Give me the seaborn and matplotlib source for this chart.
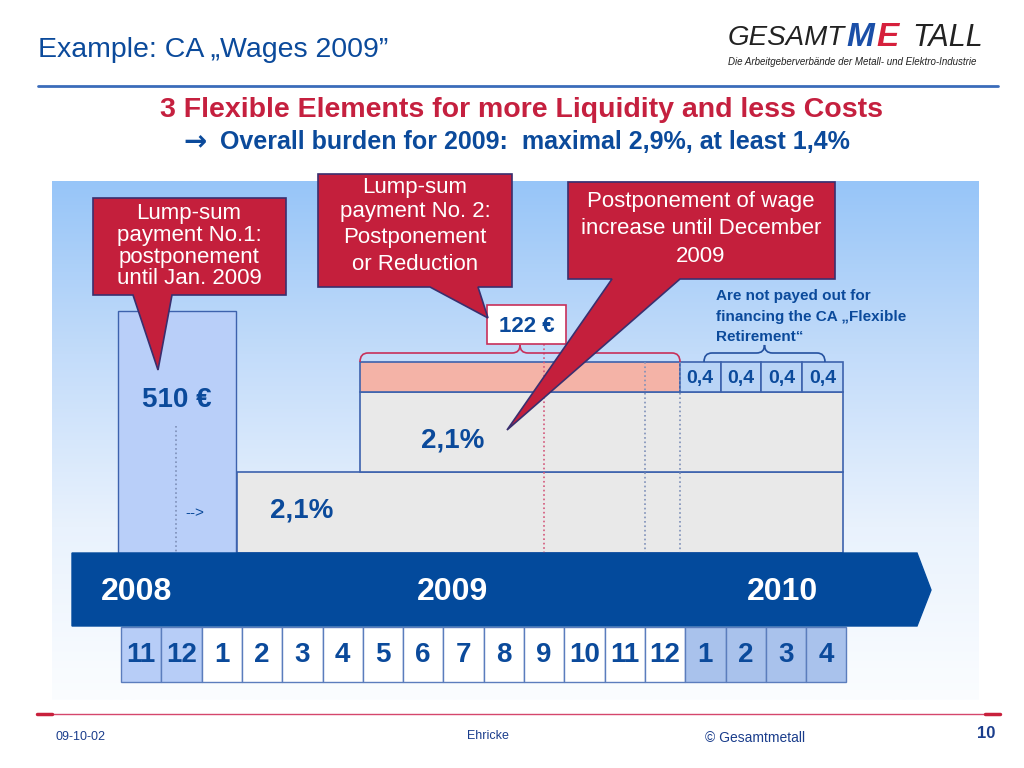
import numpy as np
import matplotlib
matplotlib.use("Agg")
import matplotlib.pyplot as plt
from matplotlib.patches import Polygon, PathPatch
from matplotlib.path import Path
from matplotlib.colors import LinearSegmentedColormap
import seaborn as sns

# ---- data
months = ["11", "12", "1", "2", "3", "4", "5", "6", "7", "8", "9",
          "10", "11", "12", "1", "2", "3", "4"]
month_year = ["2008"] * 2 + ["2009"] * 12 + ["2010"] * 4
years = ["2008", "2009", "2010"]
lump_sum_1 = 510          # EUR
lump_sum_2 = 122          # EUR
wage_step_1 = 2.1         # %
wage_step_2 = 2.1         # %
retirement_parts = [0.4, 0.4, 0.4, 0.4]

title = "Example: CA „Wages 2009”"
headline = "3 Flexible Elements for more Liquidity and less Costs"
subline = "Overall burden for 2009:  maximal 2,9%, at least 1,4%"
callout_1 = ["Lump-sum", "payment No.1:", "postponement", "until Jan. 2009"]
callout_2 = ["Lump-sum", "payment No. 2:", "Postponement", "or Reduction"]
callout_3 = ["Postponement of wage", "increase until December", "2009"]
retirement_note = ["Are not payed out for", "financing the CA „Flexible", "Retirement“"]
footer = ["09-10-02", "Ehricke", "© Gesamtmetall", "10"]


def pct(v):
    return f"{v:.1f}".replace(".", ",")


sns.set_theme(style="white")
plt.rcParams["font.family"] = ["Liberation Sans", "DejaVu Sans"]

BLUE = "#0b4a9b"
DARK_BLUE = "#034a9c"
RED = "#c41f3c"
EDGE = "#3d62ad"

fig = plt.figure(figsize=(10.24, 7.68), dpi=100)
ax = fig.add_axes([0, 0, 1, 1])
ax.set_xlim(0, 1024)
ax.set_ylim(768, 0)
ax.axis("off")

# background panel with vertical gradient
grad = np.linspace(0, 1, 256)[:, None]
bg = LinearSegmentedColormap.from_list("bg", ["#97c5f8", "#c3dcfa", "#e9f2fd", "#fbfdff"])
ax.imshow(grad, extent=(52, 979, 700, 181), cmap=bg, aspect="auto", zorder=0)
ax.set_xlim(0, 1024)
ax.set_ylim(768, 0)

# ---- month grid
x0, mw = 121, 40.3
xs = x0 + mw * np.arange(len(months))
cell_col = {"2008": "#b7cdf7", "2009": "white", "2010": "#a9c2ec"}
ax.bar(xs, 55, bottom=627, width=mw, align="edge",
       color=[cell_col[y] for y in month_year], edgecolor="#5b7dbd", linewidth=1, zorder=2)
for x, m in zip(xs, months):
    ax.text(x + mw / 2, 655, m, ha="center", va="center", fontsize=20,
            fontweight="bold", color=BLUE, zorder=3)

# ---- payment blocks
# lump sum 1 column
ax.bar(118, 553 - 311, bottom=311, width=118, align="edge", color="#b9cff9",
       edgecolor=EDGE, linewidth=1, zorder=2)
ax.plot([176, 176], [426, 553], ls=":", color="#7d8fb8", lw=1.2, zorder=3)
ax.text(177, 400, f"{lump_sum_1} €", ha="center", va="center", fontsize=20,
        fontweight="bold", color=BLUE, zorder=3)
ax.text(195, 513, "-->", ha="center", va="center", fontsize=11, color=BLUE, zorder=3)

# wage steps
ax.bar(237, 553 - 472, bottom=472, width=843 - 237, align="edge", color="#e9e9e9",
       edgecolor=EDGE, linewidth=1.2, zorder=2)
ax.bar(360, 472 - 392, bottom=392, width=843 - 360, align="edge", color="#e9e9e9",
       edgecolor=EDGE, linewidth=1.2, zorder=2)
ax.text(302, 510, pct(wage_step_1) + "%", ha="center", va="center", fontsize=20,
        fontweight="bold", color=BLUE, zorder=3)
ax.text(453, 440, pct(wage_step_2) + "%", ha="center", va="center", fontsize=20,
        fontweight="bold", color=BLUE, zorder=3)

# lump sum 2 strip and retirement cells
ax.bar(360, 30, bottom=362, width=680 - 360, align="edge", color="#f4b3a7",
       edgecolor=EDGE, linewidth=1.2, zorder=2)
rx = 680 + 40.7 * np.arange(len(retirement_parts))
ax.bar(rx, 30, bottom=362, width=40.7, align="edge", color="#b9d4f6",
       edgecolor=EDGE, linewidth=1.2, zorder=2)
for x, v in zip(rx, retirement_parts):
    ax.text(x + 20.3, 378, pct(v), ha="center", va="center", fontsize=14,
            fontweight="bold", color=BLUE, zorder=3)

# dotted guide lines
ax.plot([543.5, 543.5], [344, 553], ls=":", color="#d4577a", lw=1.2, zorder=3)
for gx in (645, 680):
    ax.plot([gx, gx], [362, 553], ls=":", color="#7d8fb8", lw=1.2, zorder=3)


def brace(x_a, x_b, y, color, d=9, c=8, r=8):
    xc = (x_a + x_b) / 2
    verts = [(x_a, y + d), (x_a, y), (x_a + r, y), (xc - r, y), (xc, y), (xc, y - c),
             (xc, y), (xc + r, y), (x_b - r, y), (x_b, y), (x_b, y + d)]
    codes = [Path.MOVETO, Path.CURVE3, Path.CURVE3, Path.LINETO, Path.CURVE3, Path.CURVE3,
             Path.CURVE3, Path.CURVE3, Path.LINETO, Path.CURVE3, Path.CURVE3]
    ax.add_patch(PathPatch(Path(verts, codes), fill=False, edgecolor=color, lw=1.2, zorder=3))


brace(360, 680, 353, "#c8305a")
brace(704, 825, 353, "#2451a0")

# 122 EUR label
ax.bar(487, 39, bottom=305, width=79, align="edge", color="white",
       edgecolor="#c8305a", linewidth=1.2, zorder=4)
ax.text(527, 326, f"{lump_sum_2} €", ha="center", va="center", fontsize=16,
        fontweight="bold", color=BLUE, zorder=5)

for i, line in enumerate(retirement_note):
    ax.text(716, 296 + i * 20.5, line, ha="left", va="center", fontsize=11,
            fontweight="bold", color=BLUE, zorder=3)

# ---- time arrow
ax.add_patch(Polygon([(72, 553), (917, 553), (931, 590), (917, 626), (72, 626)],
                     closed=True, color=DARK_BLUE, zorder=4))
for yl, cx in zip(years, (137, 452, 782)):
    ax.text(cx, 592, yl, ha="center", va="center", fontsize=23, fontweight="bold",
            color="white", zorder=5)

# ---- callouts
def callout(rect, tail, lines, cx, ys):
    (l, t, r, b) = rect
    (ta, tip, tb) = tail
    pts = [(l, t), (r, t), (r, b), (tb, b), tip, (ta, b), (l, b)]
    ax.add_patch(Polygon(pts, closed=True, facecolor=RED, edgecolor="#3a2f6e",
                         lw=1.2, zorder=6))
    for line, y in zip(lines, ys):
        ax.text(cx, y, line, ha="center", va="center", fontsize=16, color="white", zorder=7)


callout((93, 198, 286, 295), (133, (158, 370), 172), callout_1, 189, [213, 235, 257, 278])
callout((318, 174, 512, 287), (430, (488, 318), 478), callout_2, 415, [188, 211, 238, 265])
callout((568, 182, 835, 279), (612, (507, 430), 680), callout_3, 701, [202, 229, 256])

# ---- header
ax.text(38, 50, title, ha="left", va="center", fontsize=20.5, color=BLUE)
ax.plot([38, 998], [86, 86], color="#3b6cba", lw=2)
ax.text(522, 110, headline, ha="center", va="center", fontsize=20.5,
        fontweight="bold", color="#c5203f")
ax.text(195, 142, "→", ha="center", va="center", fontsize=20, fontweight="bold",
        color=BLUE, family=["DejaVu Sans"])
ax.text(535, 142, subline, ha="center", va="center", fontsize=18,
        fontweight="bold", color=BLUE)

# logo
ax.text(728, 38, "GESAMT", ha="left", va="center", fontsize=20, style="italic", color="#222222")
ax.text(846, 38, "M", ha="left", va="center", fontsize=24, style="italic",
        fontweight="bold", color="#1b4fa8")
ax.text(876, 38, "E", ha="left", va="center", fontsize=24, style="italic",
        fontweight="bold", color="#d6203c")
ax.text(912, 38, "TALL", ha="left", va="center", fontsize=22, style="italic", color="#222222")
ax.text(728, 62, "Die Arbeitgeberverbände der Metall- und Elektro-Industrie", ha="left",
        va="center", fontsize=7, style="italic", color="#222222")

# ---- footer
ax.plot([38, 998], [714, 714], color="#d5476c", lw=1)
ax.plot([37, 52], [714, 714], color="#c8203c", lw=2.5)
ax.plot([985, 1000], [714, 714], color="#c8203c", lw=2.5)
ax.text(55, 737, footer[0], ha="left", va="center", fontsize=9, color="#1a3d8c")
ax.text(488, 736, footer[1], ha="center", va="center", fontsize=9, color="#1a3d8c")
ax.text(755, 738, footer[2], ha="center", va="center", fontsize=10, color="#1a3d8c")
ax.text(995, 733, footer[3], ha="right", va="center", fontsize=12, fontweight="bold",
        color="#1a3d8c")

fig.savefig("out.png", dpi=100)
